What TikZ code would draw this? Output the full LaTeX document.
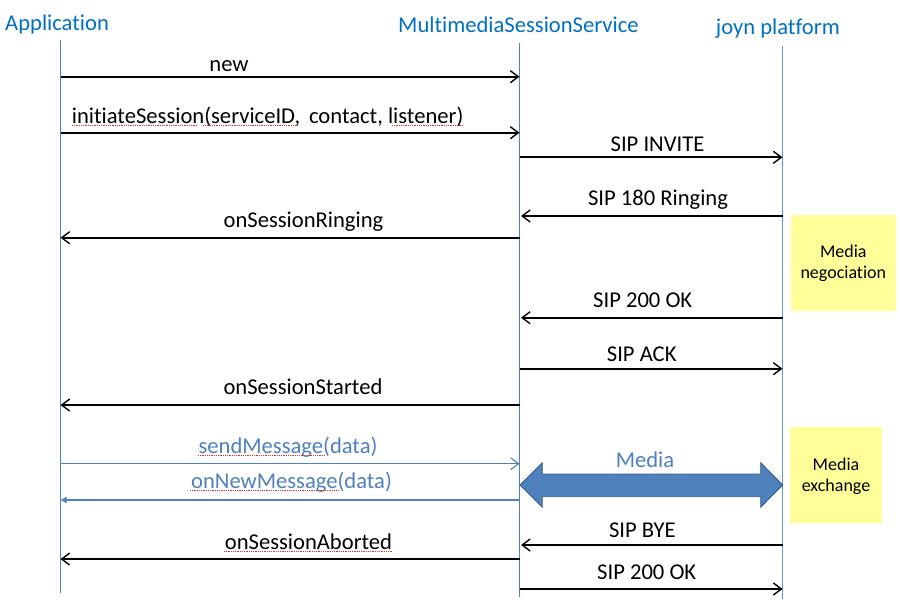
\documentclass[tikz,border=0pt]{standalone}
\usepackage{fontspec}
\setmainfont{Carlito}[Ligatures=NoCommon]
\usetikzlibrary{arrows.meta}
\definecolor{titleblue}{HTML}{0070C0}
\definecolor{lifeblue}{HTML}{4F81BD}
\definecolor{msgblue}{HTML}{4F81BD}
\definecolor{arrowedge}{HTML}{385D8A}
\definecolor{noteyellow}{HTML}{FFFF99}
\definecolor{squiggle}{HTML}{E03030}
\begin{document}
\begin{tikzpicture}[x=1pt,y=-1pt,
  title/.style={text=titleblue,font=\fontsize{22.6}{26}\selectfont,anchor=base west,inner sep=0pt},
  lifeline/.style={draw=lifeblue,line width=1.1pt},
  msg/.style={draw=black,line width=1.8pt,-{Straight Barb[length=8pt,width=12pt,line width=1.4pt]}},
  bluemsg/.style={draw=msgblue,line width=1.3pt,-{Straight Barb[length=8pt,width=12pt,line width=1.1pt]}},
  bluemsgtri/.style={draw=msgblue,line width=1.3pt,-{Triangle[length=6pt,width=6pt]}},
  lbl/.style={font=\fontsize{22.6}{26}\selectfont,anchor=base,inner sep=0pt},
  bluelbl/.style={lbl,text=msgblue},
  note/.style={fill=noteyellow,draw=none},
  notetxt/.style={font=\fontsize{18}{21}\selectfont,anchor=base,inner sep=0pt},
  spell/.style={draw=squiggle,line width=0.8pt,densely dotted}
]
\useasboundingbox (0,0) rectangle (900,607);

% titles
\node[title] (tApp) at (5,30.7) {Application};
\node[title] (tMss) at (398,32.3) {MultimediaSessionService};
\node[title] (tJoyn) at (715.7,35) {joyn platform};

% lifelines
\coordinate (app) at (60.5,40);
\coordinate (appEnd) at (60.5,593);
\coordinate (mss) at (519.5,43.3);
\coordinate (mssEnd) at (519.5,596.7);
\coordinate (joyn) at (782.5,46);
\coordinate (joynEnd) at (782.5,599.3);
\draw[lifeline] (app) -- (appEnd);
\draw[lifeline] (mss) -- (mssEnd);
\draw[lifeline,line width=1.5pt,draw=lifeblue!85] (joyn) -- (joynEnd);

% yellow notes
\node[note,minimum width=105.3pt,minimum height=95.7pt,inner sep=0pt] (negBox) at (843.3,263) {};
\node[notetxt] (neg1) at (843.3,257.7) {Media};
\node[notetxt] (neg2) at (843.3,278) {negociation};
\node[note,minimum width=92pt,minimum height=96pt,inner sep=0pt] (exBox) at (836,475.3) {};
\node[notetxt] (ex1) at (836,470) {Media};
\node[notetxt] (ex2) at (836,491.7) {exchange};

% messages
\draw[msg] (app |- 0,76.7) -- (mss |- 0,76.7);
\node[lbl] (lNew) at (229,71.7) {new};

\draw[msg] (app |- 0,132.7) -- (mss |- 0,132.7);
\node[lbl,anchor=base west] (lInit) at (71.7,123.3) {initiateSession(serviceID,\, contact, listener)};

\draw[msg] (mss |- 0,157.3) -- (joyn |- 0,157.3);
\node[lbl] (lInv) at (657.5,151.7) {SIP INVITE};

\draw[msg] (joyn |- 0,216) -- ([xshift=1.5pt]mss |- 0,216);
\node[lbl] (l180) at (658,205) {SIP 180 Ringing};

\draw[msg] (mss |- 0,237.7) -- (app |- 0,237.7);
\node[lbl] (lRing) at (303.5,227.3) {onSessionRinging};

\draw[msg] (joyn |- 0,317.7) -- ([xshift=1.5pt]mss |- 0,317.7);
\node[lbl] (l200) at (642.7,307.7) {SIP 200 OK};

\draw[msg] (mss |- 0,368.7) -- (joyn |- 0,368.7);
\node[lbl] (lAck) at (641.7,361.7) {SIP ACK};

\draw[msg] (mss |- 0,405) -- (app |- 0,405);
\node[lbl] (lStart) at (303,394) {onSessionStarted};

\draw[bluemsg] (app |- 0,463.7) -- (mss |- 0,463.7);
\node[bluelbl] (lSend) at (288,453) {sendMessage(data)};

\draw[bluemsgtri] (mss |- 0,500) -- (app |- 0,500);
\node[bluelbl] (lNewMsg) at (291.5,488) {onNewMessage(data)};

% media double arrow
\coordinate (mL) at (520,485);
\coordinate (mR) at (782.7,485);
\filldraw[fill=lifeblue,draw=arrowedge,line width=0.8pt]
  (mL) -- (542.3,462.7) -- (542.3,474) -- (760.7,474) -- (760.7,462.7) -- (mR)
  -- (760.7,507.3) -- (760.7,496.7) -- (542.3,496.7) -- (542.3,507.3) -- cycle;
\node[bluelbl] (lMedia) at (645,467.7) {Media};

\draw[msg] (joyn |- 0,545) -- ([xshift=1.5pt]mss |- 0,545);
\node[lbl] (lBye) at (642.3,537.7) {SIP BYE};

\draw[msg] (mss |- 0,559) -- (app |- 0,559);
\node[lbl] (lAbort) at (308.5,549) {onSessionAborted};

\draw[msg] (mss |- 0,589) -- (joyn |- 0,589);
\node[lbl] (l200b) at (646.7,579) {SIP 200 OK};

% spell-check underlines
\draw[spell] (72,125.5) -- (197,125.5);
\draw[spell] (203,125.5) -- (297,125.5);
\draw[spell] (392,125.5) -- (463,125.5);
\draw[spell] (198,455) -- (325,455);
\draw[spell] (190,490.5) -- (339,490.5);
\draw[spell] (224,551) -- (393,551);
\end{tikzpicture}
\end{document}
